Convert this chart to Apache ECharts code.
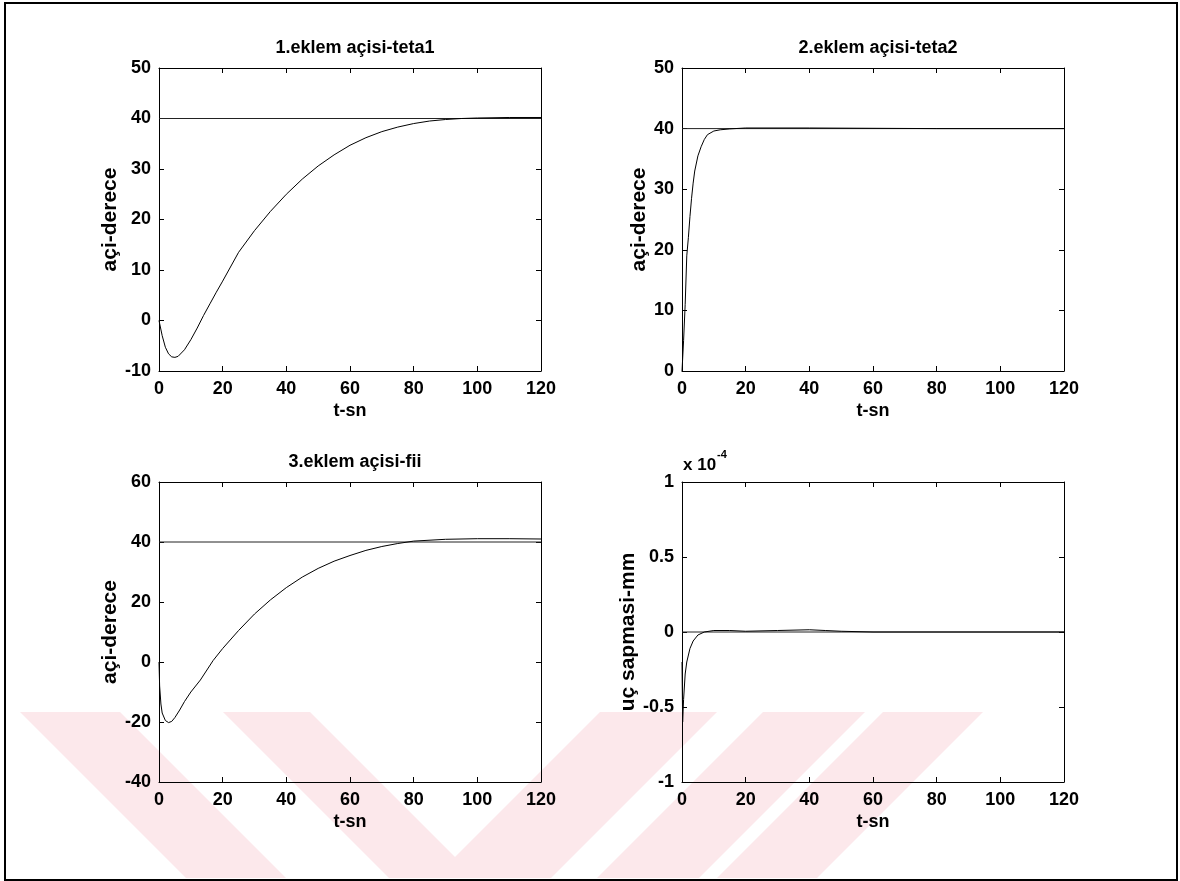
<!DOCTYPE html>
<html>
<head>
<meta charset="utf-8">
<script src="https://cdn.jsdelivr.net/npm/echarts@6/dist/echarts.min.js"></script>
<style>
html,body{margin:0;padding:0;background:#fff;}
#chart{width:1180px;height:881px;}
</style>
</head>
<body>
<div id="chart"></div>
<script>
// ---- Data ----
const titles = ['1.eklem açisi-teta1', '2.eklem açisi-teta2', '3.eklem açisi-fii', ''];
const yNames = ['açi-derece', 'açi-derece', 'açi-derece', 'uç sapmasi-mm'];
const xName = 't-sn';

// Plot 1: teta1
const t1 = [0, 1, 2, 3, 4, 5, 6, 8, 10, 12, 14, 16, 18, 20, 25, 30, 35, 40, 45, 50, 55, 60, 65, 70, 75, 80, 85, 90, 95, 100, 110, 120];
const v1 = [0, -3, -5.3, -6.6, -7.2, -7.3, -7.1, -5.8, -3.8, -1.5, 1, 3.3, 5.6, 7.8, 13.5, 17.8, 21.6, 25, 28, 30.6, 32.8, 34.7, 36.2, 37.4, 38.3, 39, 39.5, 39.8, 40, 40.1, 40.2, 40.2];
const ref1 = [[0, 40], [120, 40]];

// Plot 2: teta2
const t2 = [0, 0.5, 1, 1.5, 2, 2.5, 3, 3.5, 4, 5, 6, 7, 8, 10, 12, 15, 20, 40, 60, 80, 120];
const v2 = [0, 5, 11, 19, 22, 25.5, 28.5, 31, 33, 35.5, 37, 38.2, 39, 39.6, 39.8, 39.95, 40.1, 40.1, 40.05, 40, 40];
const ref2 = [[0, 40], [120, 40]];

// Plot 3: fii
const t3 = [0, 0.2, 0.6, 1, 2, 3, 4, 5, 6.5, 8, 10, 13, 17, 20, 25, 30, 35, 40, 45, 50, 55, 60, 65, 70, 75, 80, 90, 100, 110, 120];
const v3 = [0, -8, -14, -17, -19.5, -20.2, -19.8, -18.5, -16, -13.2, -10, -6, 0.5, 4.5, 10.5, 16, 20.7, 24.8, 28.3, 31.2, 33.6, 35.5, 37.2, 38.5, 39.5, 40.3, 40.9, 41.1, 41.1, 41];
const ref3 = [[0, 40], [120, 40]];

// Plot 4: tip deviation (x 1e-4 mm)
const t4 = [0, 0.2, 0.5, 1, 1.5, 2.5, 3.5, 5, 7, 10, 15, 20, 30, 40, 45, 50, 60, 120];
const v4 = [-0.2, -0.6, -0.45, -0.28, -0.2, -0.11, -0.06, -0.02, 0, 0.01, 0.01, 0.005, 0.01, 0.015, 0.01, 0.005, 0, 0];
const ref4 = [[0, 0], [120, 0]];

const xTicks = {min: 0, max: 120, interval: 20};
const yRanges = [
  {min: -10, max: 50, interval: 10},
  {min: 0, max: 50, interval: 10},
  {min: -40, max: 60, interval: 20},
  {min: -1, max: 1, interval: 0.5}
];

// ---- Layout ----
const grids = [
  {left: 159, top: 68, width: 382, height: 303},
  {left: 682, top: 68, width: 382, height: 303},
  {left: 159, top: 482, width: 382, height: 300},
  {left: 682, top: 482, width: 382, height: 300}
];
const yNameGaps = [29, 30, 29, 39];
const FONT = "'Liberation Sans', Arial, sans-serif";
const txt = {color: '#000', fontFamily: FONT, fontSize: 18, fontWeight: 'bold'};

const zip = (a, b) => a.map((x, i) => [x, b[i]]);
const curves = [zip(t1, v1), zip(t2, v2), zip(t3, v3), zip(t4, v4)];
const refs = [ref1, ref2, ref3, ref4];

const xAxis = [], yAxis = [], series = [], title = [];
grids.forEach((g, i) => {
  const lineStyle = {color: '#000', width: 1};
  const line = {show: true, onZero: false, lineStyle};
  const tick = {show: true, inside: true, length: 5, lineStyle};
  xAxis.push({
    type: 'value', gridIndex: i, position: 'bottom', ...xTicks,
    name: xName, nameLocation: 'middle', nameGap: 31, nameTextStyle: txt,
    axisLine: line, axisTick: tick,
    axisLabel: {...txt, margin: 9}, splitLine: {show: false}
  });
  xAxis.push({
    type: 'value', gridIndex: i, position: 'top', ...xTicks,
    axisLine: line, axisTick: tick,
    axisLabel: {show: false}, splitLine: {show: false}
  });
  yAxis.push({
    type: 'value', gridIndex: i, position: 'left', ...yRanges[i],
    name: yNames[i], nameLocation: 'middle', nameGap: yNameGaps[i],
    nameTextStyle: {...txt, fontSize: 21},
    axisLine: line, axisTick: tick,
    axisLabel: {...txt, margin: 8}, splitLine: {show: false}
  });
  yAxis.push({
    type: 'value', gridIndex: i, position: 'right', ...yRanges[i],
    axisLine: line, axisTick: tick,
    axisLabel: {show: false}, splitLine: {show: false}
  });
  series.push({
    type: 'line', xAxisIndex: 2 * i, yAxisIndex: 2 * i, data: refs[i],
    showSymbol: false, lineStyle: {color: '#222', width: 1}, silent: true, z: 3
  });
  series.push({
    type: 'line', xAxisIndex: 2 * i, yAxisIndex: 2 * i, data: curves[i],
    showSymbol: false, smooth: false,
    lineStyle: {color: '#000', width: 1}, silent: true, z: 4
  });
  if (titles[i]) {
    title.push({
      text: titles[i], left: g.left + g.width / 2, top: g.top - 34, textAlign: 'center',
      textStyle: {...txt, fontSize: 18}
    });
  }
});

// pale watermark stripes (decoration) and outer frame
const pink = '#fce8eb';
const stripe = (x0, w, dir) => {
  const y0 = 712, y1 = 878, d = (y1 - y0) * dir;
  return {type: 'polygon', z: -10, silent: true,
    shape: {points: [[x0, y0], [x0 + w, y0], [x0 + w + d, y1], [x0 + d, y1]]},
    style: {fill: pink}};
};

const graphic = [
  stripe(20, 100, 1), stripe(223, 87, 1),
  stripe(600, 117, -1), stripe(763, 102, -1), stripe(883, 100, -1),
  {type: 'rect', z: 100, silent: true, shape: {x: 5, y: 3, width: 1172, height: 877},
    style: {fill: 'none', stroke: '#000', lineWidth: 2}},
  {type: 'text', z: 100, left: 683, top: 449,
    style: {text: '{a|x 10}{b|-4}', rich: {
      a: {fontFamily: FONT, fontSize: 17, fontWeight: 'bold', fill: '#000', verticalAlign: 'bottom', padding: [8, 0, 0, 0]},
      b: {fontFamily: FONT, fontSize: 11, fontWeight: 'bold', fill: '#000', verticalAlign: 'top', padding: [0, 0, 10, 1]}
    }}}
];

const chart = echarts.init(document.getElementById('chart'), null, {renderer: 'canvas'});
chart.setOption({
  backgroundColor: '#fff',
  animation: false,
  title, grid: grids.map(g => ({...g, show: false})),
  xAxis, yAxis, series, graphic
});
</script>
</body>
</html>
